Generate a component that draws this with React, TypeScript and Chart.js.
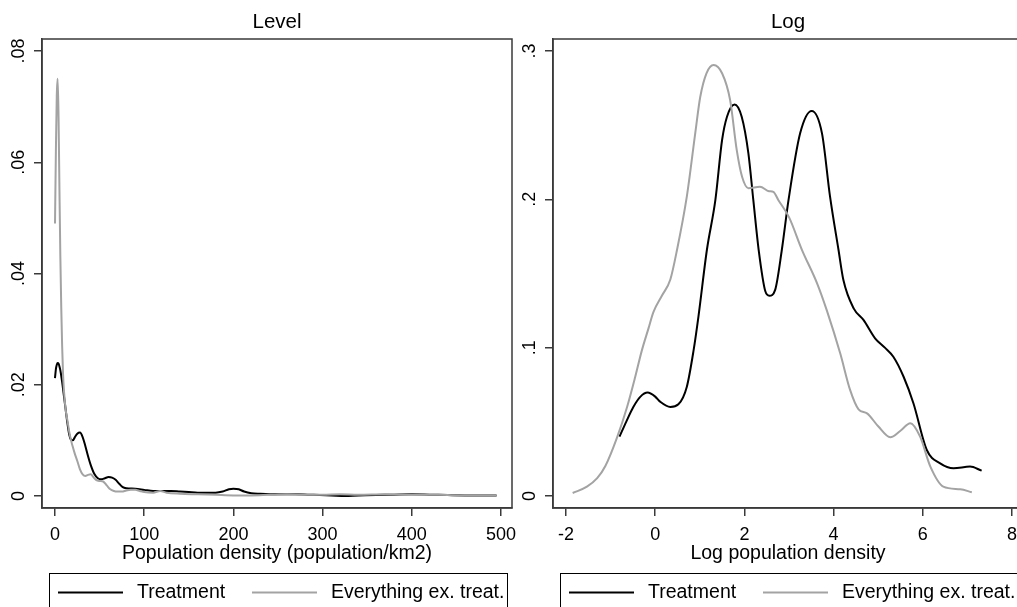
import React, { useEffect, useRef } from "react";
import { Chart, registerables } from "chart.js";
Chart.register(...registerables);

const FONT = '"Liberation Sans", Arial, Helvetica, sans-serif';
const AXIS = "#3a3a3a";
const BLACK = "#000000";
const GREY = "#a3a3a3";

// Series labels
const seriesLabels = ["Treatment", "Everything ex. treat."];

// Level panel: Treatment
const levelTreatX = [0, 1, 2, 3, 4, 5, 6, 8, 10, 12, 14, 16, 18, 20, 22, 25, 28, 31, 34, 37, 40, 44, 48, 52, 56, 60, 64, 68, 72, 76, 80, 90, 100, 110, 120, 130, 140, 150, 160, 170, 180, 188, 195, 200, 206, 212, 220, 230, 250, 270, 290, 310, 325, 340, 370, 400, 430, 460, 495];
const levelTreatY = [0.0212, 0.0228, 0.0236, 0.0239, 0.0238, 0.0233, 0.0226, 0.0205, 0.018, 0.0155, 0.013, 0.011, 0.0101, 0.01, 0.0105, 0.0112, 0.0114, 0.0106, 0.009, 0.0072, 0.0056, 0.004, 0.0032, 0.003, 0.0032, 0.0034, 0.0033, 0.0029, 0.0022, 0.0016, 0.0014, 0.0013, 0.0011, 0.0009, 0.0009, 0.0009, 0.0008, 0.0007, 0.0006, 0.0006, 0.0006, 0.0008, 0.0012, 0.0013, 0.0012, 0.0008, 0.0005, 0.0004, 0.0003, 0.0003, 0.0002, 0.0001, 0.0, 0.0001, 0.0002, 0.0003, 0.0002, 0.0001, 0.0001];

// Level panel: Everything ex. treatment
const levelOtherX = [0, 1, 2, 3, 4, 5, 6, 7, 8, 9, 10, 12, 14, 16, 18, 20, 22, 25, 28, 31, 34, 37, 40, 43, 46, 50, 54, 58, 62, 66, 70, 75, 80, 85, 90, 95, 100, 110, 118, 125, 140, 160, 180, 200, 220, 240, 260, 280, 300, 320, 340, 370, 400, 430, 460, 495];
const levelOtherY = [0.049, 0.062, 0.072, 0.075, 0.068, 0.055, 0.043, 0.034, 0.027, 0.022, 0.019, 0.0155, 0.0135, 0.0115, 0.01, 0.0088, 0.0077, 0.0063, 0.0048, 0.0039, 0.0036, 0.0038, 0.0039, 0.0034, 0.0029, 0.0027, 0.0026, 0.0019, 0.0012, 0.0009, 0.0008, 0.0008, 0.001, 0.0011, 0.0011, 0.0009, 0.0007, 0.0006, 0.0009, 0.0006, 0.0004, 0.0003, 0.0002, 0.0001, 0.0001, 0.0002, 0.0003, 0.0002, 0.0002, 0.0003, 0.0002, 0.0003, 0.0002, 0.0002, 0.0001, 0.0001];

// Log panel: Treatment
const logTreatX = [-0.8, -0.65, -0.49, -0.33, -0.17, 0.0, 0.11, 0.34, 0.52, 0.71, 0.86, 0.97, 1.16, 1.35, 1.5, 1.61, 1.78, 1.94, 2.09, 2.2, 2.32, 2.47, 2.56, 2.69, 2.84, 2.99, 3.25, 3.51, 3.74, 3.92, 4.11, 4.22, 4.45, 4.67, 4.93, 5.15, 5.34, 5.57, 5.79, 6.09, 6.39, 6.69, 7.06, 7.32];
const logTreatY = [0.04, 0.05, 0.06, 0.067, 0.0697, 0.067, 0.0636, 0.06, 0.0618, 0.0737, 0.098, 0.121, 0.166, 0.1996, 0.24, 0.2557, 0.264, 0.2557, 0.231, 0.1996, 0.166, 0.138, 0.135, 0.139, 0.166, 0.1996, 0.2445, 0.2596, 0.2445, 0.202, 0.166, 0.1456, 0.1265, 0.1187, 0.1063, 0.1, 0.0939, 0.0804, 0.0625, 0.031, 0.022, 0.0187, 0.0198, 0.0171];

// Log panel: Everything ex. treatment
const logOtherX = [-1.85, -1.53, -1.3, -1.12, -0.86, -0.63, -0.45, -0.3, -0.15, -0.04, 0.15, 0.34, 0.49, 0.71, 0.9, 1.01, 1.15, 1.31, 1.5, 1.68, 1.83, 1.95, 2.09, 2.35, 2.55, 2.65, 2.76, 3.0, 3.29, 3.63, 3.85, 4.15, 4.37, 4.56, 4.75, 5.0, 5.27, 5.5, 5.72, 5.94, 6.17, 6.46, 6.84, 7.1];
const logOtherY = [0.002, 0.0063, 0.012, 0.02, 0.039, 0.06, 0.08, 0.098, 0.113, 0.124, 0.135, 0.146, 0.166, 0.202, 0.245, 0.269, 0.285, 0.2906, 0.285, 0.267, 0.233, 0.215, 0.2075, 0.2085, 0.2055, 0.205, 0.1996, 0.188, 0.166, 0.1434, 0.125, 0.096, 0.0715, 0.0584, 0.0557, 0.047, 0.0396, 0.044, 0.049, 0.04, 0.0198, 0.0063, 0.0045, 0.0025];

// Ticks
const levelTicksX = [0, 100, 200, 300, 400, 500];
const levelTicksY = [0, 0.02, 0.04, 0.06, 0.08];
const levelTickLabelsY = ["0", ".02", ".04", ".06", ".08"];
const logTicksX = [-2, 0, 2, 4, 6, 8];
const logTicksY = [0, 0.1, 0.2, 0.3];
const logTickLabelsY = ["0", ".1", ".2", ".3"];

const toPoints = (xs: number[], ys: number[]) => xs.map((x, i) => ({ x, y: ys[i] }));

type PanelProps = {
  title: string;
  xTitle: string;
  treatX: number[];
  treatY: number[];
  otherX: number[];
  otherY: number[];
  ticksX: number[];
  ticksY: number[];
  tickLabelsY: string[];
  xMin: number;
  xMax: number;
  yMin: number;
  yMax: number;
  yAxisWidth: number;
  yLabelPad: number;
  padRight: number;
  left: number;
  width: number;
};

function Panel(p: PanelProps) {
  const ref = useRef<HTMLCanvasElement | null>(null);
  useEffect(() => {
    if (!ref.current) return;
    const decor = {
      id: "decor",
      afterDraw(chart: any) {
        const { ctx, chartArea: a } = chart;
        ctx.save();
        // frame
        ctx.strokeStyle = AXIS;
        ctx.lineWidth = 1.5;
        ctx.strokeRect(a.left, a.top, a.right - a.left, a.bottom - a.top);
        // title
        ctx.fillStyle = "#000";
        ctx.font = `20.5px ${FONT}`;
        ctx.textAlign = "center";
        ctx.textBaseline = "middle";
        ctx.fillText(p.title, (a.left + a.right) / 2, 22);
        // legend box
        const bx = a.left + 7;
        const by = 573;
        const bw = a.right - a.left - 12;
        ctx.strokeStyle = "#000";
        ctx.lineWidth = 1;
        ctx.strokeRect(Math.round(bx) + 0.5, by + 0.5, bw, 60);
        const colors = [BLACK, GREY];
        const offs = [9, 203];
        ctx.font = `19.5px ${FONT}`;
        ctx.textAlign = "left";
        for (let i = 0; i < seriesLabels.length; i++) {
          const lx = bx + offs[i];
          ctx.strokeStyle = colors[i];
          ctx.lineWidth = 2;
          ctx.beginPath();
          ctx.moveTo(lx, 592.5);
          ctx.lineTo(lx + 65, 592.5);
          ctx.stroke();
          ctx.fillStyle = "#000";
          ctx.fillText(seriesLabels[i], lx + 79, 593);
        }
        ctx.restore();
      },
    };
    const labelFor = (v: number) => {
      const idx = p.ticksY.findIndex((t) => Math.abs(t - v) < 1e-9);
      return idx >= 0 ? p.tickLabelsY[idx] : "";
    };
    const chart = new Chart(ref.current, {
      type: "scatter",
      data: {
        datasets: [
          {
            label: seriesLabels[0],
            data: toPoints(p.treatX, p.treatY),
            showLine: true,
            borderColor: BLACK,
            borderWidth: 2,
            pointRadius: 0,
            cubicInterpolationMode: "monotone",
            order: 1,
          },
          {
            label: seriesLabels[1],
            data: toPoints(p.otherX, p.otherY),
            showLine: true,
            borderColor: GREY,
            borderWidth: 2,
            pointRadius: 0,
            cubicInterpolationMode: "monotone",
            order: 0,
          },
        ],
      },
      options: {
        animation: false,
        responsive: false,
        devicePixelRatio: 1,
        layout: { padding: { left: 0, right: p.padRight, top: 39, bottom: 34 } },
        plugins: { legend: { display: false }, title: { display: false }, tooltip: { enabled: false } },
        scales: {
          x: {
            type: "linear",
            min: p.xMin,
            max: p.xMax,
            afterBuildTicks: (s: any) => {
              s.ticks = p.ticksX.map((v) => ({ value: v }));
            },
            afterFit: (s: any) => {
              s.height = 65;
              s.paddingLeft = 0;
              s.paddingRight = 0;
            },
            grid: { drawOnChartArea: false, drawTicks: true, tickLength: 8, color: AXIS, lineWidth: 1.5 },
            border: { display: true, color: AXIS, width: 1.5 },
            ticks: {
              color: "#000",
              font: { family: FONT, size: 18 },
              padding: 8,
              maxRotation: 0,
              autoSkip: false,
              callback: (v: any) => String(v),
            },
            title: {
              display: true,
              text: p.xTitle,
              color: "#000",
              font: { family: FONT, size: 19.5 },
              padding: { top: 0, bottom: 8 },
            },
          },
          y: {
            type: "linear",
            min: p.yMin,
            max: p.yMax,
            afterBuildTicks: (s: any) => {
              s.ticks = p.ticksY.map((v) => ({ value: v }));
            },
            afterFit: (s: any) => {
              s.width = p.yAxisWidth;
              s.paddingTop = 0;
              s.paddingBottom = 0;
            },
            grid: { drawOnChartArea: false, drawTicks: true, tickLength: 8, color: AXIS, lineWidth: 1.5 },
            border: { display: true, color: AXIS, width: 1.5 },
            ticks: {
              color: "#000",
              font: { family: FONT, size: 18 },
              padding: p.yLabelPad,
              minRotation: 90,
              maxRotation: 90,
              crossAlign: "center",
              autoSkip: false,
              callback: (v: any) => labelFor(Number(v)),
            },
          },
        },
      },
      plugins: [decor],
    } as any);
    return () => chart.destroy();
  }, []);
  return (
    <canvas
      ref={ref}
      width={p.width}
      height={607}
      style={{ position: "absolute", left: p.left, top: 0, width: p.width, height: 607, display: "block" }}
    />
  );
}

export default function App() {
  return (
    <div style={{ position: "absolute", left: 0, top: 0, width: 1017, height: 607, overflow: "hidden", background: "#fff" }}>
      <Panel
        title="Level"
        xTitle="Population density (population/km2)"
        treatX={levelTreatX}
        treatY={levelTreatY}
        otherX={levelOtherX}
        otherY={levelOtherY}
        ticksX={levelTicksX}
        ticksY={levelTicksY}
        tickLabelsY={levelTickLabelsY}
        xMin={-14.57}
        xMax={512.33}
        yMin={-0.00216}
        yMax={0.08216}
        yAxisWidth={42}
        yLabelPad={2}
        padRight={5}
        left={0}
        width={517}
      />
      <Panel
        title="Log"
        xTitle="Log population density"
        treatX={logTreatX}
        treatY={logTreatY}
        otherX={logOtherX}
        otherY={logOtherY}
        ticksX={logTicksX}
        ticksY={logTicksY}
        tickLabelsY={logTickLabelsY}
        xMin={-2.291}
        xMax={8.247}
        yMin={-0.0081}
        yMax={0.3081}
        yAxisWidth={36}
        yLabelPad={7.5}
        padRight={14}
        left={517}
        width={520}
      />
    </div>
  );
}
